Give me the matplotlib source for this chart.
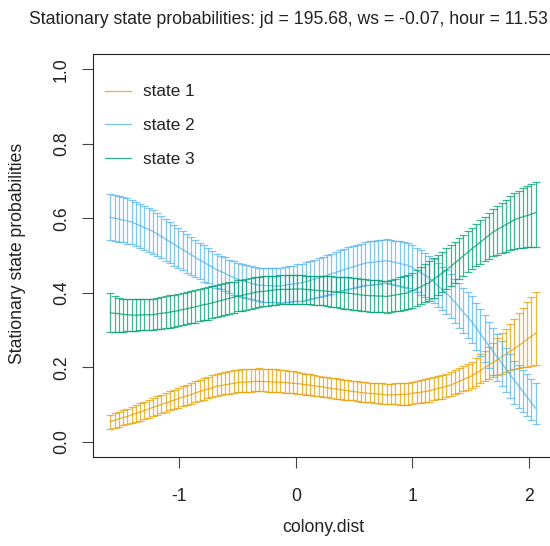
import numpy as np
import matplotlib
matplotlib.use("Agg")
import matplotlib.pyplot as plt

plt.rcParams['font.family'] = ['Liberation Sans', 'DejaVu Sans']

#-------------------------------------------------
# Data (101 grid points of colony.dist)
#-------------------------------------------------
x_start, x_end = -1.594, 2.06

s1_mean = [0.054, 0.058, 0.061, 0.065, 0.068, 0.072, 0.076, 0.080, 0.084, 0.088,
           0.092, 0.096, 0.100, 0.104, 0.108, 0.112, 0.116, 0.120, 0.123, 0.127,
           0.131, 0.135, 0.138, 0.142, 0.145, 0.149, 0.151, 0.153, 0.155, 0.157,
           0.159, 0.160, 0.160, 0.161, 0.162, 0.162, 0.162, 0.161, 0.161, 0.160,
           0.160, 0.159, 0.158, 0.157, 0.156, 0.155, 0.153, 0.152, 0.150, 0.149,
           0.147, 0.145, 0.143, 0.142, 0.140, 0.138, 0.137, 0.135, 0.134, 0.132,
           0.131, 0.130, 0.129, 0.128, 0.127, 0.126, 0.126, 0.126, 0.127, 0.127,
           0.128, 0.130, 0.132, 0.133, 0.135, 0.137, 0.140, 0.143, 0.146, 0.149,
           0.152, 0.157, 0.162, 0.167, 0.172, 0.177, 0.184, 0.191, 0.199, 0.206,
           0.213, 0.220, 0.228, 0.235, 0.243, 0.250, 0.258, 0.266, 0.275, 0.283,
           0.291]
s1_upper = [0.073, 0.077, 0.081, 0.085, 0.089, 0.093, 0.098, 0.103, 0.107, 0.112,
            0.117, 0.122, 0.126, 0.131, 0.135, 0.140, 0.144, 0.149, 0.153, 0.158,
            0.162, 0.166, 0.170, 0.174, 0.178, 0.182, 0.184, 0.187, 0.189, 0.192,
            0.194, 0.195, 0.195, 0.196, 0.196, 0.197, 0.196, 0.196, 0.195, 0.195,
            0.194, 0.192, 0.190, 0.189, 0.187, 0.185, 0.183, 0.181, 0.179, 0.177,
            0.175, 0.173, 0.172, 0.170, 0.168, 0.167, 0.166, 0.164, 0.163, 0.161,
            0.160, 0.159, 0.158, 0.158, 0.157, 0.156, 0.156, 0.157, 0.157, 0.158,
            0.158, 0.160, 0.163, 0.165, 0.168, 0.170, 0.173, 0.176, 0.180, 0.183,
            0.186, 0.192, 0.198, 0.203, 0.209, 0.215, 0.225, 0.235, 0.245, 0.255,
            0.265, 0.278, 0.291, 0.304, 0.317, 0.330, 0.345, 0.359, 0.374, 0.388,
            0.403]
s1_lower = [0.034, 0.037, 0.040, 0.044, 0.047, 0.050, 0.054, 0.057, 0.061, 0.064,
            0.068, 0.072, 0.076, 0.080, 0.084, 0.088, 0.092, 0.095, 0.099, 0.102,
            0.106, 0.110, 0.113, 0.117, 0.120, 0.124, 0.126, 0.128, 0.129, 0.131,
            0.133, 0.133, 0.134, 0.134, 0.135, 0.135, 0.135, 0.134, 0.134, 0.133,
            0.133, 0.132, 0.131, 0.130, 0.129, 0.128, 0.126, 0.125, 0.123, 0.122,
            0.120, 0.119, 0.117, 0.116, 0.114, 0.113, 0.112, 0.111, 0.109, 0.108,
            0.107, 0.106, 0.105, 0.103, 0.102, 0.101, 0.101, 0.101, 0.100, 0.100,
            0.100, 0.102, 0.103, 0.105, 0.106, 0.108, 0.111, 0.114, 0.116, 0.119,
            0.122, 0.127, 0.131, 0.136, 0.140, 0.145, 0.151, 0.157, 0.163, 0.169,
            0.175, 0.179, 0.183, 0.188, 0.192, 0.196, 0.198, 0.200, 0.202, 0.204,
            0.206]

s2_mean = [0.603, 0.600, 0.598, 0.595, 0.593, 0.590, 0.585, 0.580, 0.575, 0.570,
           0.565, 0.558, 0.551, 0.544, 0.537, 0.530, 0.523, 0.516, 0.509, 0.502,
           0.495, 0.488, 0.482, 0.475, 0.469, 0.462, 0.457, 0.452, 0.446, 0.441,
           0.436, 0.433, 0.430, 0.426, 0.423, 0.420, 0.420, 0.419, 0.419, 0.418,
           0.418, 0.420, 0.422, 0.423, 0.425, 0.427, 0.430, 0.433, 0.437, 0.440,
           0.443, 0.447, 0.451, 0.454, 0.458, 0.462, 0.466, 0.469, 0.473, 0.476,
           0.480, 0.481, 0.482, 0.484, 0.485, 0.486, 0.484, 0.481, 0.479, 0.476,
           0.474, 0.467, 0.460, 0.454, 0.447, 0.440, 0.430, 0.419, 0.409, 0.398,
           0.388, 0.375, 0.362, 0.348, 0.335, 0.322, 0.306, 0.290, 0.274, 0.258,
           0.242, 0.227, 0.211, 0.196, 0.180, 0.165, 0.150, 0.135, 0.120, 0.105,
           0.090]
s2_upper = [0.665, 0.662, 0.659, 0.656, 0.653, 0.650, 0.644, 0.639, 0.633, 0.628,
            0.622, 0.614, 0.606, 0.598, 0.590, 0.582, 0.574, 0.566, 0.557, 0.549,
            0.541, 0.534, 0.527, 0.519, 0.512, 0.505, 0.500, 0.495, 0.489, 0.484,
            0.479, 0.476, 0.474, 0.471, 0.469, 0.466, 0.466, 0.466, 0.466, 0.466,
            0.466, 0.468, 0.471, 0.473, 0.476, 0.478, 0.482, 0.486, 0.489, 0.493,
            0.497, 0.501, 0.505, 0.510, 0.514, 0.518, 0.522, 0.525, 0.529, 0.532,
            0.536, 0.538, 0.539, 0.541, 0.542, 0.544, 0.542, 0.540, 0.538, 0.536,
            0.534, 0.527, 0.520, 0.514, 0.507, 0.500, 0.490, 0.480, 0.470, 0.460,
            0.450, 0.438, 0.426, 0.414, 0.402, 0.390, 0.373, 0.356, 0.339, 0.322,
            0.305, 0.288, 0.270, 0.253, 0.235, 0.218, 0.206, 0.194, 0.181, 0.169,
            0.157]
s2_lower = [0.542, 0.540, 0.537, 0.535, 0.532, 0.530, 0.525, 0.520, 0.515, 0.510,
            0.505, 0.498, 0.492, 0.485, 0.479, 0.472, 0.466, 0.460, 0.454, 0.448,
            0.442, 0.436, 0.430, 0.425, 0.419, 0.413, 0.409, 0.404, 0.400, 0.395,
            0.391, 0.388, 0.385, 0.383, 0.380, 0.377, 0.376, 0.375, 0.375, 0.374,
            0.373, 0.374, 0.375, 0.377, 0.378, 0.379, 0.381, 0.384, 0.386, 0.389,
            0.391, 0.394, 0.397, 0.401, 0.404, 0.407, 0.410, 0.413, 0.415, 0.418,
            0.421, 0.422, 0.423, 0.424, 0.425, 0.426, 0.424, 0.421, 0.419, 0.416,
            0.414, 0.408, 0.401, 0.395, 0.388, 0.382, 0.372, 0.362, 0.353, 0.343,
            0.333, 0.319, 0.305, 0.292, 0.278, 0.264, 0.247, 0.230, 0.214, 0.197,
            0.180, 0.164, 0.149, 0.133, 0.118, 0.102, 0.091, 0.080, 0.070, 0.059,
            0.048]

s3_mean = [0.346, 0.345, 0.344, 0.342, 0.341, 0.340, 0.340, 0.340, 0.341, 0.341,
           0.341, 0.343, 0.345, 0.346, 0.348, 0.350, 0.352, 0.355, 0.357, 0.360,
           0.362, 0.365, 0.368, 0.370, 0.373, 0.376, 0.379, 0.382, 0.385, 0.388,
           0.391, 0.393, 0.396, 0.398, 0.401, 0.403, 0.404, 0.405, 0.407, 0.408,
           0.409, 0.409, 0.409, 0.410, 0.410, 0.410, 0.409, 0.408, 0.407, 0.406,
           0.405, 0.404, 0.403, 0.402, 0.401, 0.400, 0.399, 0.397, 0.396, 0.394,
           0.393, 0.392, 0.392, 0.391, 0.391, 0.390, 0.392, 0.394, 0.396, 0.398,
           0.400, 0.405, 0.411, 0.416, 0.422, 0.427, 0.436, 0.444, 0.453, 0.461,
           0.470, 0.480, 0.489, 0.499, 0.508, 0.518, 0.527, 0.536, 0.545, 0.554,
           0.563, 0.570, 0.576, 0.583, 0.589, 0.596, 0.600, 0.604, 0.607, 0.611,
           0.615]
s3_upper = [0.400, 0.390, 0.386, 0.384, 0.383, 0.383, 0.383, 0.383, 0.384, 0.384,
            0.384, 0.386, 0.388, 0.391, 0.393, 0.395, 0.397, 0.400, 0.402, 0.405,
            0.407, 0.410, 0.412, 0.415, 0.417, 0.420, 0.423, 0.425, 0.428, 0.430,
            0.433, 0.435, 0.437, 0.439, 0.441, 0.443, 0.444, 0.445, 0.445, 0.446,
            0.447, 0.447, 0.447, 0.447, 0.447, 0.447, 0.446, 0.446, 0.445, 0.445,
            0.444, 0.444, 0.444, 0.443, 0.443, 0.443, 0.442, 0.440, 0.439, 0.437,
            0.436, 0.435, 0.434, 0.433, 0.432, 0.431, 0.434, 0.437, 0.441, 0.444,
            0.447, 0.454, 0.462, 0.469, 0.477, 0.484, 0.493, 0.502, 0.510, 0.519,
            0.528, 0.537, 0.547, 0.556, 0.566, 0.575, 0.585, 0.595, 0.604, 0.614,
            0.624, 0.633, 0.642, 0.650, 0.659, 0.668, 0.674, 0.680, 0.686, 0.692,
            0.698]
s3_lower = [0.294, 0.295, 0.296, 0.296, 0.297, 0.298, 0.298, 0.299, 0.299, 0.300,
            0.300, 0.302, 0.303, 0.305, 0.306, 0.308, 0.310, 0.313, 0.315, 0.318,
            0.320, 0.323, 0.326, 0.328, 0.331, 0.334, 0.337, 0.340, 0.344, 0.347,
            0.350, 0.352, 0.355, 0.357, 0.360, 0.362, 0.364, 0.365, 0.367, 0.368,
            0.370, 0.370, 0.370, 0.371, 0.371, 0.371, 0.370, 0.369, 0.368, 0.367,
            0.366, 0.364, 0.362, 0.361, 0.359, 0.357, 0.356, 0.354, 0.353, 0.351,
            0.350, 0.349, 0.349, 0.348, 0.348, 0.347, 0.349, 0.351, 0.352, 0.354,
            0.356, 0.360, 0.365, 0.369, 0.374, 0.378, 0.386, 0.394, 0.402, 0.410,
            0.418, 0.427, 0.437, 0.446, 0.456, 0.465, 0.472, 0.478, 0.485, 0.491,
            0.498, 0.502, 0.506, 0.510, 0.514, 0.518, 0.519, 0.520, 0.522, 0.523,
            0.524]

state_labels = ["state 1", "state 2", "state 3"]
state_colors = ["#E69F00", "#56B4E9", "#009E73"]
y_ticks = [0.0, 0.2, 0.4, 0.6, 0.8, 1.0]
x_ticks = [-1, 0, 1, 2]

colony_dist = np.linspace(x_start, x_end, len(s1_mean))

#-------------------------------------------------
# Figure
#-------------------------------------------------
fig = plt.figure(figsize=(5.5, 5.46), dpi=100)
ax = fig.add_axes([93.3 / 550, 1 - 456.7 / 546, (552.6 - 93.3) / 550, (456.7 - 54.3) / 546])

series = [(s1_mean, s1_lower, s1_upper),
          (s2_mean, s2_lower, s2_upper),
          (s3_mean, s3_lower, s3_upper)]

for (m, lo, up), col, lab in zip(series, state_colors, state_labels):
    m = np.array(m)
    lo = np.array(lo)
    up = np.array(up)
    ax.errorbar(colony_dist, m, yerr=[m - lo, up - m], fmt='none',
                ecolor=col, elinewidth=0.9, capsize=3.1, capthick=0.9, alpha=0.75)
    ax.plot(colony_dist, m, color=col, lw=0.9, alpha=0.8, label=lab)

ax.set_xlim(-1.740, 2.206)
ax.set_ylim(-0.04, 1.04)
ax.set_xticks(x_ticks)
ax.set_xticklabels([str(t) for t in x_ticks])
ax.set_yticks(y_ticks)
ax.set_yticklabels(["%.1f" % t for t in y_ticks], rotation=90, va='center')

for s in ax.spines.values():
    s.set_linewidth(0.8)
    s.set_color('#222222')
ax.spines['right'].set_visible(False)
ax.tick_params(axis='both', length=7.7, width=0.8, color='#444444',
               labelsize=12.7, labelcolor='#222222')
ax.tick_params(axis='x', pad=15)
ax.tick_params(axis='y', pad=9)

leg = ax.legend(loc='upper left', bbox_to_anchor=(0.0255, 0.925), frameon=False,
                fontsize=12.3, handlelength=1.5, handletextpad=0.7,
                labelspacing=1.1, borderpad=0, borderaxespad=0)
for t in leg.get_texts():
    t.set_color('#222222')

fig.text(288 / 550, 1 - 20 / 546, "Stationary state probabilities: jd = 195.68, ws = -0.07, hour = 11.53",
         ha='center', va='center', fontsize=12.7, color='#222222')
fig.text(18 / 550, 1 - 253 / 546, "Stationary state probabilities", rotation=90,
         ha='center', va='center', fontsize=12.7, color='#222222')
fig.text(323 / 550, 1 - 528 / 546, "colony.dist", ha='center', va='center',
         fontsize=12.7, color='#222222')

fig.savefig("out.png", dpi=100)
